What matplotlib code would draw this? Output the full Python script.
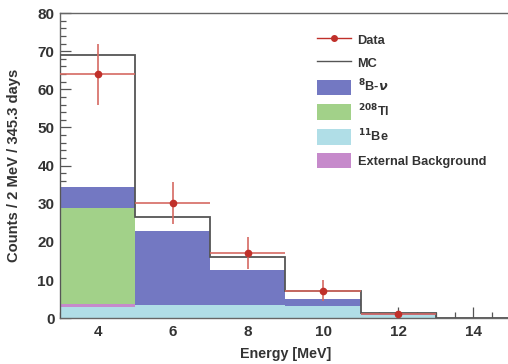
import numpy as np
import matplotlib

matplotlib.use("Agg")
import matplotlib.pyplot as plt
from matplotlib.lines import Line2D
from matplotlib.patches import Patch

plt.rcParams["font.family"] = ["Liberation Sans", "DejaVu Sans"]
plt.rcParams["font.weight"] = "bold"

# binning and values
edges = [3, 5, 7, 9, 11, 13, 15]
be11 = [3.0, 3.5, 3.5, 3.3, 0.8, 0.0]
ext_bkg = [0.7, 0.0, 0.0, 0.0, 0.0, 0.0]
tl208 = [25.2, 0.0, 0.0, 0.0, 0.0, 0.0]
b8_nu = [5.6, 19.3, 9.2, 1.6, 0.5, 0.0]
mc_total = [69.0, 26.4, 16.0, 7.2, 1.3, 0.0]

data_x = [4, 6, 8, 10, 12]
data_y = [64.0, 30.1, 17.0, 7.2, 1.0]
data_err = [8.0, 5.5, 4.2, 2.7, 1.0]

C_BLUE = "#7378c2"
C_GREEN = "#a2d189"
C_CYAN = "#b0dee7"
C_MAG = "#c68acb"
C_RED = "#c0302a"

fig = plt.figure(figsize=(5.08, 3.64), dpi=100)
ax = fig.add_axes([0.118, 0.126, 0.888, 0.838])

edges_a = np.array(edges, dtype=float)
bottom = np.zeros(len(be11))
for vals, col in [(be11, C_CYAN), (ext_bkg, C_MAG), (tl208, C_GREEN), (b8_nu, C_BLUE)]:
    top = bottom + np.array(vals)
    ax.stairs(top, edges_a, baseline=bottom, fill=True, color=col, lw=0, zorder=1)
    bottom = top

ax.stairs(mc_total, edges_a, baseline=0, color="#555555", lw=1.3, zorder=3)

ax.errorbar(data_x, data_y, yerr=data_err, xerr=1.0, fmt="o", color=C_RED,
            ecolor="#d66a62", elinewidth=1.2, markersize=4.5, capsize=0, zorder=4)

ax.set_xlim(3, 15)
ax.set_ylim(0, 80)
ax.set_axisbelow(True)
ax.set_xticks([4, 6, 8, 10, 12, 14])
ax.set_xticks(np.arange(3, 15.01, 0.5), minor=True)
ax.set_yticks(np.arange(0, 81, 10))
ax.set_yticks(np.arange(0, 81, 2), minor=True)
ax.tick_params(which="both", direction="in", colors="#555555", labelcolor="#333333",
               labelsize=11, width=0.9)
ax.tick_params(which="major", length=8)
ax.tick_params(which="minor", length=4)
ax.tick_params(axis="x", pad=5)
ax.tick_params(axis="y", pad=4)
for s in ax.spines.values():
    s.set_color("#666666")
    s.set_linewidth(1.0)

ax.set_xlabel("Energy [MeV]", fontsize=10.3, fontweight="bold", color="#333333")
ax.set_ylabel("Counts / 2 MeV / 345.3 days", fontsize=10.6, fontweight="bold",
              color="#333333")
ax.xaxis.set_label_coords(0.5, -0.093)
ax.yaxis.set_label_coords(-0.087, 0.5)

handles = [
    Line2D([], [], color=C_RED, lw=1.0, marker="o", markersize=4),
    Line2D([], [], color="#555555", lw=1.0),
    Patch(facecolor=C_BLUE),
    Patch(facecolor=C_GREEN),
    Patch(facecolor=C_CYAN),
    Patch(facecolor=C_MAG),
]
labels = ["Data", "MC", r"$^{\mathbf{8}}$B-$\nu$", r"$^{\mathbf{208}}$Tl",
          r"$^{\mathbf{11}}$Be", "External Background"]
ax.legend(handles, labels, loc="upper left", bbox_to_anchor=(0.602, 0.945),
          bbox_transform=fig.transFigure, frameon=False, fontsize=9.2,
          handlelength=2.6, handleheight=1.5, labelspacing=0.6, handletextpad=0.55,
          labelcolor="#333333")

fig.savefig("out.png", dpi=100)
